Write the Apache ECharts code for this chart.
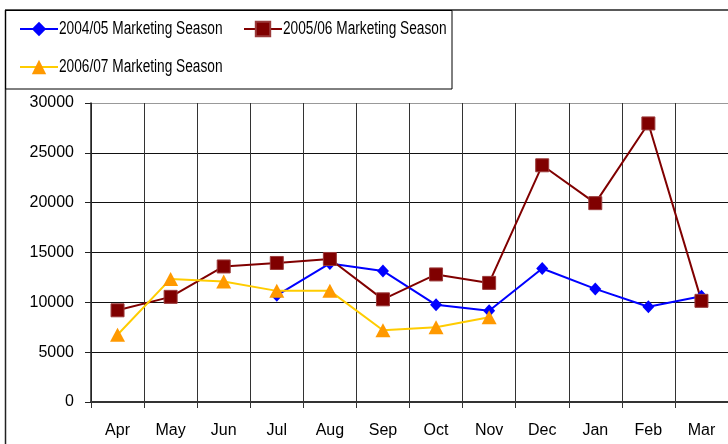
<!DOCTYPE html>
<html>
<head>
<meta charset="utf-8">
<script src="https://cdn.jsdelivr.net/npm/echarts@6/dist/echarts.min.js"></script>
<style>
html,body{margin:0;padding:0;background:#fff;}
#c{width:728px;height:444px;}
</style>
</head>
<body>
<div id="c"></div>
<script>
var months = ['Apr','May','Jun','Jul','Aug','Sep','Oct','Nov','Dec','Jan','Feb','Mar'];
var yTicks = [0,5000,10000,15000,20000,25000,30000];
var season0405 = [null,null,null,10700,13900,13150,9750,9150,13400,11350,9550,10600];
var season0506 = [9200,10550,13600,13950,14350,10300,12800,11950,23750,19950,27950,10150];
var season0607 = [6750,12350,12100,11150,11150,7200,7500,8500,null,null,null,null];
var names = ['2004/05 Marketing Season','2005/06 Marketing Season','2006/07 Marketing Season'];

var chart = echarts.init(document.getElementById('c'));
var font = 'Arial, "Liberation Sans", sans-serif';
function leg(name, left, top){
  return {
    data:[name], left:left, top:top, orient:'horizontal',
    itemWidth:38, itemHeight:18, itemGap:0, padding:0,
    formatter:function(){return '';},
    textStyle:{fontSize:1, padding:0},
    selectedMode:false
  };
}
function legText(name, x, y){
  return {type:'text', x:x, y:y, scaleX:0.76, scaleY:1, silent:true,
    style:{text:name, fontFamily:font, fontSize:18, fill:'#000', textVerticalAlign:'middle', verticalAlign:'middle'}};
}
chart.setOption({
  animation:false,
  backgroundColor:'#fff',
  legend:[leg(names[0],19,20), leg(names[1],243,20), leg(names[2],19,58)],
  grid:{left:91, top:103, right:-3, bottom:42, containLabel:false},
  xAxis:{
    type:'category', data:months, boundaryGap:true,
    axisLine:{show:true, lineStyle:{color:'#333', width:2}},
    axisTick:{show:true, length:6, alignWithLabel:false, lineStyle:{color:'#333', width:1}},
    axisLabel:{fontFamily:font, fontSize:16, color:'#000', margin:21, interval:0},
    splitLine:{show:true, interval:0, lineStyle:{color:'#333', width:1}}
  },
  yAxis:{
    type:'value', min:0, max:30000, interval:5000,
    axisLine:{show:true, lineStyle:{color:'#222', width:1.5}},
    axisTick:{show:true, length:6, inside:false, lineStyle:{color:'#222'}},
    axisLabel:{fontFamily:font, fontSize:16, color:'#000', margin:17,
      formatter:function(v){return yTicks.indexOf(v)>=0 ? String(v) : '';}},
    splitLine:{show:true, lineStyle:{color:['#111','#111','#111','#111','#111','#111','#999'], width:1}}
  },
  series:[
    {name:names[0], type:'line', data:season0405, connectNulls:false,
     symbol:'diamond', symbolSize:[12,13],
     lineStyle:{color:'#0000FF', width:2}, itemStyle:{color:'#0000FF'}},
    {name:names[1], type:'line', data:season0506,
     symbol:'rect', symbolSize:13,
     lineStyle:{color:'#800000', width:2}, itemStyle:{color:'#800000', borderColor:'#9a3a3a', borderWidth:1}},
    {name:names[2], type:'line', data:season0607, connectNulls:false,
     symbol:'triangle', symbolSize:[15,14],
     lineStyle:{color:'#FFCC00', width:2}, itemStyle:{color:'#FF9900'}}
  ],
  graphic:[
    {type:'line', shape:{x1:5,y1:10,x2:728,y2:10}, style:{stroke:'#222', lineWidth:1.5}},
    {type:'line', shape:{x1:5.5,y1:10,x2:5.5,y2:444}, style:{stroke:'#222', lineWidth:1.5}},
    {type:'rect', shape:{x:5.5,y:10.5,width:446.5,height:78.5}, style:{fill:null, stroke:'#000', lineWidth:1}},
    legText(names[0], 59, 29),
    legText(names[1], 283, 29),
    legText(names[2], 59, 67)
  ]
});
</script>
</body>
</html>
